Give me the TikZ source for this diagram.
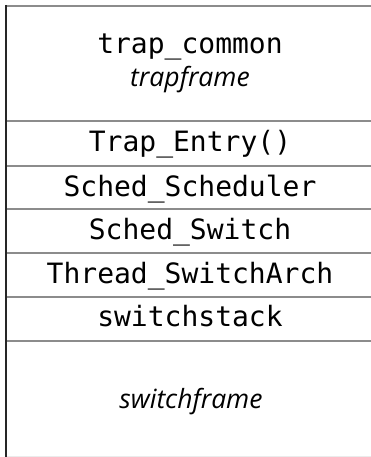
\documentclass[tikz,border=0pt]{standalone}
\usepackage{fontspec}
\setmonofont{DejaVu Sans Mono}
\newfontfamily\itfont{Open Sans Italic}
\newcommand{\us}{\char95\relax}
\begin{document}
\begin{tikzpicture}[x=1pt,y=-1pt,
  mono/.style={font=\fontsize{28}{32}\selectfont\ttfamily, inner sep=0pt, anchor=base},
  ital/.style={font=\fontsize{26.5}{30}\selectfont\itfont, inner sep=0pt, anchor=base},
  divider/.style={draw=black!45, line width=2pt},
  edge/.style={draw=black!85, line width=2pt}]
\useasboundingbox (0,0) rectangle (370,457);
\draw[divider] (6,6) -- (375,6);
\foreach \yy in {121,166,209,253,297,341} \draw[divider] (6,\yy) -- (375,\yy);
\draw[draw=black!8, line width=1pt] (6,456.5) -- (375,456.5);
\draw[edge] (6,5) -- (6,457);
\node[mono] (tc) at (190,53.3) {trap\us common};
\node[ital] (tf) at (190,86.7) {trapframe};
\node[mono] (te) at (190,151.7) {Trap\us Entry()};
\node[mono] (ss) at (190,196) {Sched\us Scheduler};
\node[mono] (sw) at (190,239.7) {Sched\us Switch};
\node[mono] (ta) at (190,283.3) {Thread\us SwitchArch};
\node[mono] (st) at (190,326.7) {switchstack};
\node[ital] (sf) at (191,408) {switchframe};
\end{tikzpicture}
\end{document}
